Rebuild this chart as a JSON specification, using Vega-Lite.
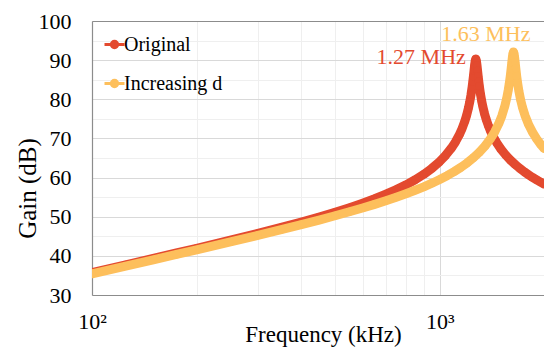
{
  "$schema": "https://vega.github.io/schema/vega-lite/v6.json",
  "width": 452,
  "height": 274,
  "autosize": {"type": "none"},
  "padding": {"left": 92, "top": 21, "right": 0, "bottom": 52},
  "config": {
    "view": {"stroke": null},
    "font": "Liberation Serif",
    "background": "white"
  },
  "datasets": {
    "curves": [
      {"series": "Original", "f": 100, "gain": 35.75},
      {"series": "Original", "f": 125, "gain": 37.72},
      {"series": "Original", "f": 150, "gain": 39.34},
      {"series": "Original", "f": 175, "gain": 40.73},
      {"series": "Original", "f": 200, "gain": 41.94},
      {"series": "Original", "f": 250, "gain": 44.0},
      {"series": "Original", "f": 300, "gain": 45.74},
      {"series": "Original", "f": 350, "gain": 47.27},
      {"series": "Original", "f": 400, "gain": 48.65},
      {"series": "Original", "f": 450, "gain": 49.93},
      {"series": "Original", "f": 500, "gain": 51.14},
      {"series": "Original", "f": 550, "gain": 52.31},
      {"series": "Original", "f": 600, "gain": 53.46},
      {"series": "Original", "f": 650, "gain": 54.6},
      {"series": "Original", "f": 700, "gain": 55.75},
      {"series": "Original", "f": 750, "gain": 56.93},
      {"series": "Original", "f": 800, "gain": 58.15},
      {"series": "Original", "f": 850, "gain": 59.45},
      {"series": "Original", "f": 900, "gain": 60.84},
      {"series": "Original", "f": 950, "gain": 62.38},
      {"series": "Original", "f": 1000, "gain": 64.1},
      {"series": "Original", "f": 1040, "gain": 65.69},
      {"series": "Original", "f": 1080, "gain": 67.52},
      {"series": "Original", "f": 1110, "gain": 69.11},
      {"series": "Original", "f": 1140, "gain": 71.02},
      {"series": "Original", "f": 1160, "gain": 72.53},
      {"series": "Original", "f": 1180, "gain": 74.31},
      {"series": "Original", "f": 1195, "gain": 75.9},
      {"series": "Original", "f": 1210, "gain": 77.81},
      {"series": "Original", "f": 1220, "gain": 79.32},
      {"series": "Original", "f": 1230, "gain": 81.09},
      {"series": "Original", "f": 1240, "gain": 83.23},
      {"series": "Original", "f": 1245, "gain": 84.46},
      {"series": "Original", "f": 1250, "gain": 85.82},
      {"series": "Original", "f": 1255, "gain": 87.26},
      {"series": "Original", "f": 1260, "gain": 88.68},
      {"series": "Original", "f": 1265, "gain": 89.82},
      {"series": "Original", "f": 1270, "gain": 90.29},
      {"series": "Original", "f": 1275, "gain": 89.83},
      {"series": "Original", "f": 1280, "gain": 88.7},
      {"series": "Original", "f": 1285, "gain": 87.31},
      {"series": "Original", "f": 1290, "gain": 85.9},
      {"series": "Original", "f": 1295, "gain": 84.6},
      {"series": "Original", "f": 1300, "gain": 83.4},
      {"series": "Original", "f": 1310, "gain": 81.34},
      {"series": "Original", "f": 1320, "gain": 79.63},
      {"series": "Original", "f": 1330, "gain": 78.19},
      {"series": "Original", "f": 1345, "gain": 76.39},
      {"series": "Original", "f": 1360, "gain": 74.91},
      {"series": "Original", "f": 1380, "gain": 73.27},
      {"series": "Original", "f": 1400, "gain": 71.9},
      {"series": "Original", "f": 1430, "gain": 70.21},
      {"series": "Original", "f": 1460, "gain": 68.81},
      {"series": "Original", "f": 1500, "gain": 67.27},
      {"series": "Original", "f": 1550, "gain": 65.71},
      {"series": "Original", "f": 1600, "gain": 64.4},
      {"series": "Original", "f": 1650, "gain": 63.3},
      {"series": "Original", "f": 1700, "gain": 62.34},
      {"series": "Original", "f": 1750, "gain": 61.49},
      {"series": "Original", "f": 1800, "gain": 60.73},
      {"series": "Original", "f": 1850, "gain": 60.04},
      {"series": "Original", "f": 1900, "gain": 59.42},
      {"series": "Original", "f": 1950, "gain": 58.85},
      {"series": "Original", "f": 1995, "gain": 58.37},
      {"series": "Increasing d", "f": 100, "gain": 35.43},
      {"series": "Increasing d", "f": 125, "gain": 37.39},
      {"series": "Increasing d", "f": 150, "gain": 39.0},
      {"series": "Increasing d", "f": 175, "gain": 40.36},
      {"series": "Increasing d", "f": 200, "gain": 41.55},
      {"series": "Increasing d", "f": 250, "gain": 43.57},
      {"series": "Increasing d", "f": 300, "gain": 45.24},
      {"series": "Increasing d", "f": 350, "gain": 46.69},
      {"series": "Increasing d", "f": 400, "gain": 47.98},
      {"series": "Increasing d", "f": 450, "gain": 49.15},
      {"series": "Increasing d", "f": 500, "gain": 50.24},
      {"series": "Increasing d", "f": 550, "gain": 51.26},
      {"series": "Increasing d", "f": 600, "gain": 52.23},
      {"series": "Increasing d", "f": 650, "gain": 53.16},
      {"series": "Increasing d", "f": 700, "gain": 54.07},
      {"series": "Increasing d", "f": 750, "gain": 54.97},
      {"series": "Increasing d", "f": 800, "gain": 55.86},
      {"series": "Increasing d", "f": 850, "gain": 56.75},
      {"series": "Increasing d", "f": 900, "gain": 57.64},
      {"series": "Increasing d", "f": 950, "gain": 58.56},
      {"series": "Increasing d", "f": 1000, "gain": 59.5},
      {"series": "Increasing d", "f": 1050, "gain": 60.48},
      {"series": "Increasing d", "f": 1100, "gain": 61.51},
      {"series": "Increasing d", "f": 1150, "gain": 62.6},
      {"series": "Increasing d", "f": 1200, "gain": 63.77},
      {"series": "Increasing d", "f": 1250, "gain": 65.04},
      {"series": "Increasing d", "f": 1300, "gain": 66.46},
      {"series": "Increasing d", "f": 1350, "gain": 68.07},
      {"series": "Increasing d", "f": 1400, "gain": 69.95},
      {"series": "Increasing d", "f": 1440, "gain": 71.7},
      {"series": "Increasing d", "f": 1480, "gain": 73.86},
      {"series": "Increasing d", "f": 1510, "gain": 75.84},
      {"series": "Increasing d", "f": 1540, "gain": 78.35},
      {"series": "Increasing d", "f": 1560, "gain": 80.46},
      {"series": "Increasing d", "f": 1575, "gain": 82.42},
      {"series": "Increasing d", "f": 1585, "gain": 83.96},
      {"series": "Increasing d", "f": 1595, "gain": 85.75},
      {"series": "Increasing d", "f": 1605, "gain": 87.82},
      {"series": "Increasing d", "f": 1612, "gain": 89.4},
      {"series": "Increasing d", "f": 1618, "gain": 90.69},
      {"series": "Increasing d", "f": 1624, "gain": 91.71},
      {"series": "Increasing d", "f": 1630, "gain": 92.1},
      {"series": "Increasing d", "f": 1636, "gain": 91.71},
      {"series": "Increasing d", "f": 1642, "gain": 90.72},
      {"series": "Increasing d", "f": 1648, "gain": 89.44},
      {"series": "Increasing d", "f": 1655, "gain": 87.91},
      {"series": "Increasing d", "f": 1665, "gain": 85.89},
      {"series": "Increasing d", "f": 1675, "gain": 84.16},
      {"series": "Increasing d", "f": 1690, "gain": 82.01},
      {"series": "Increasing d", "f": 1710, "gain": 79.75},
      {"series": "Increasing d", "f": 1730, "gain": 77.95},
      {"series": "Increasing d", "f": 1760, "gain": 75.81},
      {"series": "Increasing d", "f": 1800, "gain": 73.62},
      {"series": "Increasing d", "f": 1850, "gain": 71.55},
      {"series": "Increasing d", "f": 1900, "gain": 69.88},
      {"series": "Increasing d", "f": 1950, "gain": 68.51},
      {"series": "Increasing d", "f": 1995, "gain": 67.45}
    ],
    "peaks": [
      {"series": "Original", "f": 1270, "gain": 90.29, "label": "1.27 MHz"},
      {"series": "Increasing d", "f": 1630, "gain": 92.1, "label": "1.63 MHz"}
    ]
  },
  "resolve": {"axis": {"x": "independent", "y": "independent"}},
  "layer": [
    {
      "data": {"name": "curves"},
      "transform": [{"filter": "datum.series === 'Original'"}],
      "mark": {"type": "line", "strokeWidth": 9, "strokeCap": "round", "strokeJoin": "round", "clip": true},
      "encoding": {
        "x": {
          "field": "f", "type": "quantitative",
          "scale": {"type": "log", "domain": [100, 1995], "nice": false},
          "axis": {
            "orient": "bottom",
            "values": [100, 200, 300, 400, 500, 600, 700, 800, 900, 1000],
            "labelExpr": "datum.value == 100 ? '10²' : datum.value == 1000 ? '10³' : ''",
            "ticks": false,
            "grid": true,
            "gridColor": {"condition": {"test": "datum.value == 1000", "value": "#d9d9d9"}, "value": "#efefef"},
            "gridWidth": 1,
            "domainColor": "#8c8c8c",
            "domainWidth": 1.2,
            "labelFont": "Liberation Serif",
            "labelFontSize": 22,
            "labelColor": "#000000",
            "labelPadding": 16,
            "labelFlush": false,
            "labelOverlap": false,
            "title": "Frequency (kHz)",
            "titleFont": "Liberation Serif",
            "titleFontSize": 23,
            "titleFontWeight": "normal",
            "titleColor": "#000000",
            "titleX": 231,
            "titleY": 46,
            "titleAlign": "center",
            "titleBaseline": "alphabetic"
          }
        },
        "y": {
          "field": "gain", "type": "quantitative",
          "scale": {"domain": [30, 100], "nice": false},
          "axis": {
            "orient": "left",
            "values": [30, 40, 50, 60, 70, 80, 90, 100],
            "ticks": false,
            "grid": true,
            "gridColor": "#d9d9d9",
            "gridWidth": 1,
            "domainColor": "#8c8c8c",
            "domainWidth": 1.2,
            "labelFont": "Liberation Serif",
            "labelFontSize": 22,
            "labelColor": "#000000",
            "labelPadding": 21,
            "labelFlush": false,
            "labelOverlap": false,
            "title": "Gain (dB)",
            "titleFont": "Liberation Serif",
            "titleFontSize": 25,
            "titleFontWeight": "normal",
            "titleColor": "#000000",
            "titleX": -65,
            "titleY": 167,
            "titleAngle": 270,
            "titleAlign": "center",
            "titleBaseline": "middle"
          }
        },
        "color": {
          "field": "series", "type": "nominal",
          "scale": {"domain": ["Original", "Increasing d"], "range": ["#e34a2f", "#fdbf5c"]},
          "legend": {
            "orient": "none",
            "legendX": 11,
            "legendY": 12,
            "title": null,
            "padding": 0,
            "symbolType": "M-1,0H1M-0.32,0A0.32,0.32,0,1,1,0.32,0A0.32,0.32,0,1,1,-0.32,0Z",
            "symbolSize": 400,
            "symbolStrokeWidth": 3,
            "labelFont": "Liberation Serif",
            "labelFontSize": 20,
            "labelColor": "#000000",
            "labelOffset": -2,
            "rowPadding": 17
          }
        }
      }
    },
    {
      "data": {"name": "curves"},
      "transform": [{"filter": "datum.series === 'Original'"}],
      "mark": {"type": "point", "filled": true, "opacity": 1, "size": 64, "clip": true},
      "encoding": {
        "x": {"field": "f", "type": "quantitative", "axis": null},
        "y": {
          "field": "gain", "type": "quantitative",
          "axis": {"orient": "right", "values": [35, 45, 55, 65, 75, 85, 95], "labels": false, "ticks": false, "domain": false, "grid": true, "gridColor": "#efefef", "gridWidth": 1, "title": null}
        },
        "color": {"field": "series", "type": "nominal"}
      }
    },
    {
      "data": {"name": "curves"},
      "transform": [{"filter": "datum.series === 'Increasing d'"}],
      "mark": {"type": "line", "strokeWidth": 9, "strokeCap": "round", "strokeJoin": "round", "clip": true},
      "encoding": {
        "x": {
          "field": "f", "type": "quantitative",
          "axis": {"orient": "top", "labels": false, "ticks": false, "grid": false, "domain": true, "domainColor": "#8c8c8c", "domainWidth": 1.2, "title": null}
        },
        "y": {"field": "gain", "type": "quantitative", "axis": null},
        "color": {"field": "series", "type": "nominal"}
      }
    },
    {
      "data": {"name": "curves"},
      "transform": [{"filter": "datum.series === 'Increasing d'"}],
      "mark": {"type": "point", "filled": true, "opacity": 1, "size": 64, "clip": true},
      "encoding": {
        "x": {"field": "f", "type": "quantitative", "axis": null},
        "y": {"field": "gain", "type": "quantitative", "axis": null},
        "color": {"field": "series", "type": "nominal"}
      }
    },
    {
      "data": {"name": "peaks"},
      "transform": [{"filter": "datum.series === 'Original'"}],
      "mark": {"type": "text", "align": "right", "baseline": "alphabetic", "dx": -10, "dy": 5, "font": "Liberation Serif", "fontSize": 22, "color": "#e34a2f"},
      "encoding": {
        "x": {"field": "f", "type": "quantitative", "axis": null},
        "y": {"field": "gain", "type": "quantitative", "axis": null},
        "text": {"field": "label"}
      }
    },
    {
      "data": {"name": "peaks"},
      "transform": [{"filter": "datum.series === 'Increasing d'"}],
      "mark": {"type": "text", "align": "right", "baseline": "alphabetic", "dx": 17, "dy": -11, "font": "Liberation Serif", "fontSize": 22, "color": "#fdbf5c"},
      "encoding": {
        "x": {"field": "f", "type": "quantitative", "axis": null},
        "y": {"field": "gain", "type": "quantitative", "axis": null},
        "text": {"field": "label"}
      }
    }
  ]
}
